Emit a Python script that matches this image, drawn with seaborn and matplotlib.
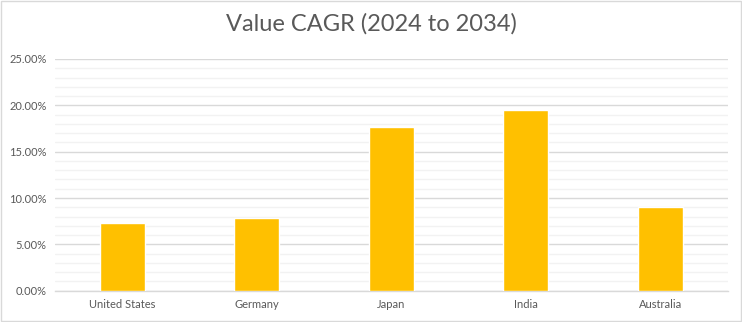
import matplotlib
matplotlib.use("Agg")
import matplotlib.pyplot as plt
import seaborn as sns
import pandas as pd
from matplotlib.ticker import MultipleLocator, FuncFormatter
from matplotlib.patches import Rectangle

countries = ["United States", "Germany", "Japan", "India", "Australia"]
cagr = [7.3, 7.85, 17.7, 19.5, 9.05]
title = "Value CAGR (2024 to 2034)"

sns.set_theme(style="white")
plt.rcParams['font.family'] = ['Lato', 'DejaVu Sans']

df = pd.DataFrame({"country": countries, "cagr": cagr})

fig = plt.figure(figsize=(7.42, 3.22), dpi=100)
ax = fig.add_axes([0.0741, 0.0972, 0.9067, 0.7196])

sns.barplot(data=df, x="country", y="cagr", color="#FFC000", width=0.334,
            saturation=1, ax=ax, zorder=3)

ax.set_ylim(0, 25)
ax.yaxis.set_major_locator(MultipleLocator(5))
ax.yaxis.set_minor_locator(MultipleLocator(1))
ax.yaxis.set_major_formatter(FuncFormatter(lambda v, p: f"{v:.2f}%"))
ax.grid(axis="y", which="major", color="#D9D9D9", linewidth=1, zorder=0)
ax.grid(axis="y", which="minor", color="#F2F2F2", linewidth=1, zorder=0)
ax.grid(axis="x", visible=False)
for s in ["top", "right", "left"]:
    ax.spines[s].set_visible(False)
ax.spines["bottom"].set_color("#D9D9D9")
ax.spines["bottom"].set_linewidth(1)
ax.tick_params(axis="both", which="both", length=0, labelsize=8, colors="#595959")
ax.tick_params(axis="x", pad=6)
ax.tick_params(axis="y", pad=6)
ax.set_xlabel("")
ax.set_ylabel("")
ax.set_xlim(-0.5, 4.5)

fig.text(0.5, 0.925, title, ha="center", va="center", fontsize=17,
         color="#595959", fontweight="normal")

fig.patches.append(Rectangle((0.001, 0.002), 0.997, 0.995, transform=fig.transFigure,
                             fill=False, edgecolor="#D9D9D9", linewidth=1))

fig.savefig("out.png", dpi=100)
